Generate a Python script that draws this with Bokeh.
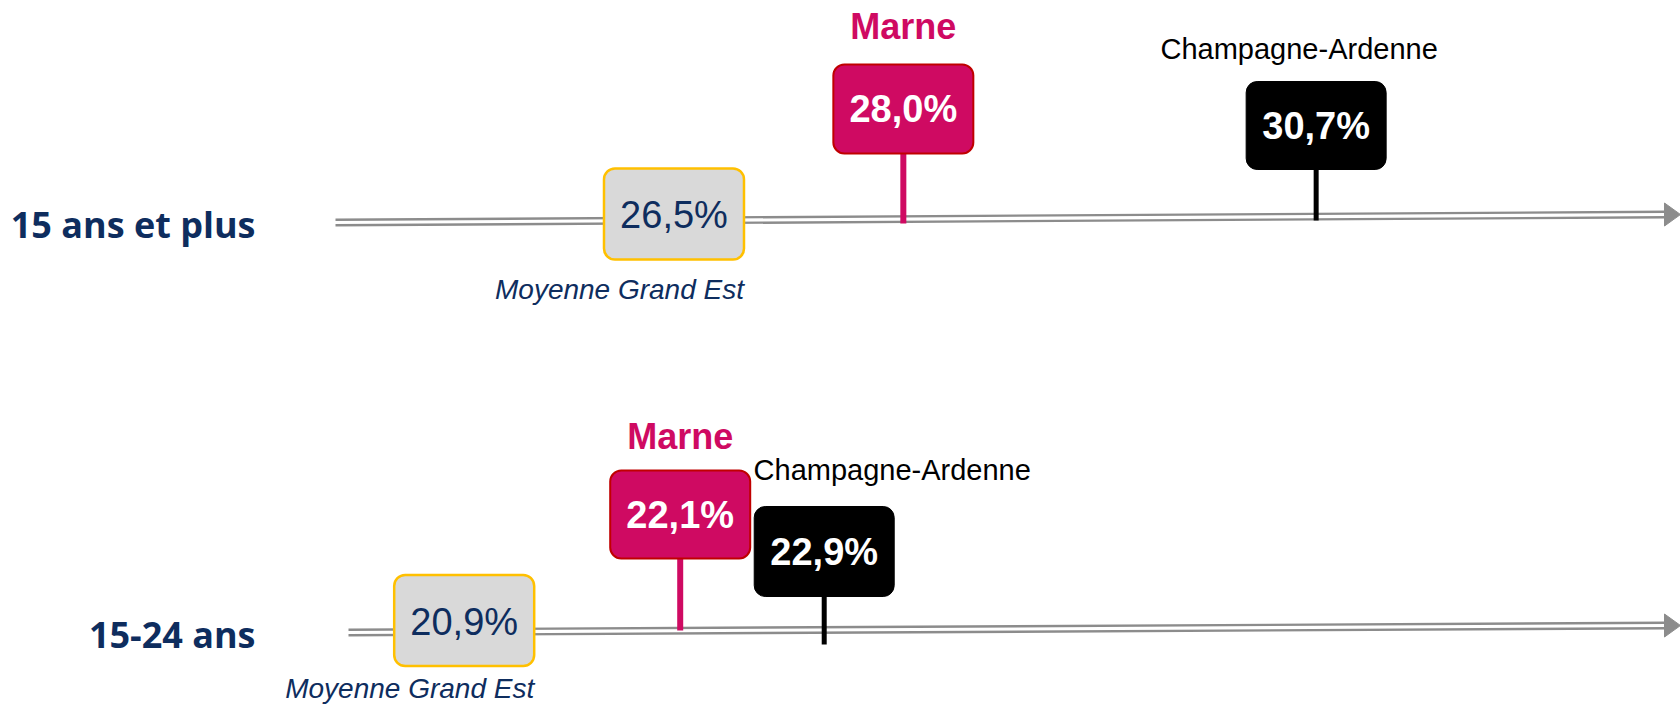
from bokeh.plotting import figure
from bokeh.models import Range1d
from bokeh.core.properties import value
from bokeh.embed import file_html
from bokeh.resources import INLINE

# ---------------- data ----------------
categories = ["15 ans et plus", "15-24 ans"]
series_names = ["Moyenne Grand Est", "Marne", "Champagne-Ardenne"]
grand_est = [26.5, 20.9]
marne = [28.0, 22.1]
champagne = [30.7, 22.9]


def fmt(v):
    return f"{v:.1f}".replace(".", ",") + "%"


# ---------------- style / layout ----------------
W, H = 1680, 706
NAVY = "#0e2d5e"
MAGENTA = "#cf0a62"
DARKRED = "#c00000"
GOLD = "#ffc000"
GREY_FILL = "#d9d9d9"
LINE_GREY = "#8c8c8c"
SANS = "Liberation Sans"
BOX_W = 140

# each row has its own horizontal value scale (as in the original infographic)
row_ranges = [Range1d(22.095, 33.083), Range1d(18.324, 27.657)]
range_names = ["default", "r1"]

# vertical layout per row (pixels from top of plot)
layouts = [
    dict(x0=335, y0=222, y1=214, label=224, ge_cy=213.5, ge_h=91, ge_t=214, moy=289,
         ma_cy=108.5, ma_h=89, ma_lab=26, ma_end=223,
         ch_cy=125, ch_h=88, ch_lab=48, ch_end=220, ch_off=-17),
    dict(x0=348, y0=632, y1=625, label=634, ge_cy=620, ge_h=91, ge_t=621, moy=688,
         ma_cy=514, ma_h=88, ma_lab=436, ma_end=630,
         ch_cy=551, ch_h=90, ch_lab=469, ch_end=644, ch_off=68),
]

p = figure(width=W, height=H, x_range=row_ranges[0], y_range=Range1d(H, 0),
           output_backend="svg", toolbar_location=None, min_border=0,
           x_axis_location=None, y_axis_location=None, outline_line_color=None)
p.grid.visible = False
p.extra_x_ranges = {"r1": row_ranges[1], "px": Range1d(0, W)}

for r, cat in enumerate(categories):
    L = layouts[r]
    rn = range_names[r]
    ge, ma, ch = grand_est[r], marne[r], champagne[r]

    # double line axis with arrow head
    for dy in (-2.75, 2.75):
        p.line(x=[L["x0"], W - 14], y=[L["y0"] + dy, L["y1"] + dy], x_range_name="px",
               line_color=LINE_GREY, line_width=2.4)
    p.patch(x=[W - 16, W, W - 16], y=[L["y1"] - 11.5, L["y1"], L["y1"] + 11.5],
            x_range_name="px", fill_color=LINE_GREY, line_color=LINE_GREY)

    # row label
    p.text(x=[255], y=[L["label"]], text=[cat], x_range_name="px",
           text_align="right", text_baseline="middle", text_font=value("Open Sans"),
           text_font_style="bold", text_font_size="36px", text_color=NAVY)

    # stems
    p.segment(x0=[ma], y0=[L["ma_cy"] + L["ma_h"] / 2], x1=[ma], y1=[L["ma_end"]],
              x_range_name=rn, line_color=MAGENTA, line_width=6)
    p.segment(x0=[ch], y0=[L["ch_cy"] + L["ch_h"] / 2], x1=[ch], y1=[L["ch_end"]],
              x_range_name=rn, line_color="black", line_width=5)

    # boxes
    p.rect(x=[ge], y=[L["ge_cy"]], width=BOX_W, height=L["ge_h"], width_units="screen",
           height_units="screen", x_range_name=rn, fill_color=GREY_FILL,
           line_color=GOLD, line_width=2.5, border_radius=11)
    p.rect(x=[ma], y=[L["ma_cy"]], width=BOX_W, height=L["ma_h"], width_units="screen",
           height_units="screen", x_range_name=rn, fill_color=MAGENTA,
           line_color=DARKRED, line_width=2, border_radius=11)
    p.rect(x=[ch], y=[L["ch_cy"]], width=BOX_W, height=L["ch_h"], width_units="screen",
           height_units="screen", x_range_name=rn, fill_color="black",
           line_color="black", line_width=1, border_radius=11)

    # values in boxes
    p.text(x=[ge], y=[L["ge_t"]], text=[fmt(ge)], x_range_name=rn, text_align="center",
           text_baseline="middle", text_font=value(SANS), text_font_size="38px",
           text_color=NAVY)
    p.text(x=[ma], y=[L["ma_cy"]], text=[fmt(ma)], x_range_name=rn, text_align="center",
           text_baseline="middle", text_font=value(SANS), text_font_style="bold",
           text_font_size="38px", text_color="white")
    p.text(x=[ch], y=[L["ch_cy"]], text=[fmt(ch)], x_range_name=rn, text_align="center",
           text_baseline="middle", text_font=value(SANS), text_font_style="bold",
           text_font_size="38px", text_color="white")

    # series labels
    p.text(x=[ge], y=[L["moy"]], text=[series_names[0]], x_range_name=rn, x_offset=BOX_W / 2,
           text_align="right", text_baseline="middle", text_font=value(SANS),
           text_font_style="italic", text_font_size="28px", text_color=NAVY)
    p.text(x=[ma], y=[L["ma_lab"]], text=[series_names[1]], x_range_name=rn,
           text_align="center", text_baseline="middle", text_font=value(SANS),
           text_font_style="bold", text_font_size="36px", text_color=MAGENTA)
    p.text(x=[ch], y=[L["ch_lab"]], text=[series_names[2]], x_range_name=rn,
           x_offset=L["ch_off"], text_align="center", text_baseline="middle",
           text_font=value(SANS), text_font_size="29px", text_color="black")

open("out.html", "w").write(file_html(p, INLINE))
